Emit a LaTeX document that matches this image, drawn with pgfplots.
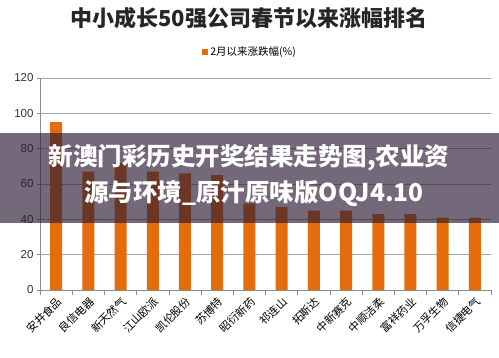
\documentclass[border=0pt]{standalone}
\usepackage{fontspec}
\setmainfont{Liberation Sans}
\newfontfamily\cjk{Noto Sans CJK SC}
\usepackage{pgfplots}
\pgfplotsset{compat=1.18}
\definecolor{barorange}{HTML}{E46C0A}
\definecolor{bannerc}{HTML}{2A1A35}
\begin{document}
\begin{tikzpicture}[x=1pt,y=1pt]
\useasboundingbox (0,0) rectangle (499,357);
\fill[white] (0,0) rectangle (499,357);
\node[font=\cjk\bfseries\fontsize{22}{22}\selectfont, text=black!85] at (249,339) {中小成长50强公司春节以来涨幅排名};
\begin{axis}[
  at={(40pt,67pt)}, anchor=south west,
  scale only axis, width=451pt, height=212pt,
  ybar, bar width=12pt,
  xmin=-0.5, xmax=13.5, ymin=0, ymax=120,
  ytick={0,20,...,120},
  xtick={0,...,13},
  xticklabels={安井食品,良信电器,新天然气,江山欧派,凯伦股份,苏博特,昭衍新药,祁连山,拓斯达,中新赛克,中顺洁柔,富祥药业,万孚生物,信捷电气},
  minor xtick={-0.5,0.5,...,13.5},
  major x tick style={draw=none},
  axis x line*=bottom, axis y line*=left,
  ymajorgrids, grid style={gray!70, line width=0.6pt},
  axis line style={gray!90, line width=0.6pt},
  tick style={gray!90, line width=0.6pt},
  tick align=outside, major tick length=3pt, minor tick length=5pt,
  x tick label style={rotate=45, anchor=north east, font=\cjk\fontsize{11}{11}\selectfont, inner sep=0.5pt},
  xticklabel shift=2pt,
  y tick label style={font=\fontsize{11.5}{11.5}\selectfont, text=black!80},
  /pgf/number format/assume math mode=true,
  legend style={at={(0.466,1.123)}, anchor=center, draw=none, fill=none, font=\cjk\fontsize{10.5}{10.5}\selectfont},
  legend image code/.code={\fill[barorange] (0pt,-3pt) rectangle (6pt,3pt);},
]
\addplot[fill=barorange, draw=none] coordinates {
(0,95) (1,67) (2,72) (3,67) (4,66) (5,65) (6,49) (7,47) (8,45) (9,45) (10,43) (11,43) (12,41) (13,41)};
\addlegendentry{2月以来涨跌幅(\%)}
\end{axis}
\fill[bannerc, opacity=0.65] (0,134) rectangle (499,224);
\node[font=\cjk\bfseries\fontsize{24.5}{24.5}\selectfont, text=white] at (249,199) {新澳门彩历史开奖结果走势图,农业资};
\node[font=\cjk\bfseries\fontsize{24.5}{24.5}\selectfont, text=white] at (254,164) {源与环境\_原汁原味版OQJ4.10};
\end{tikzpicture}
\end{document}
